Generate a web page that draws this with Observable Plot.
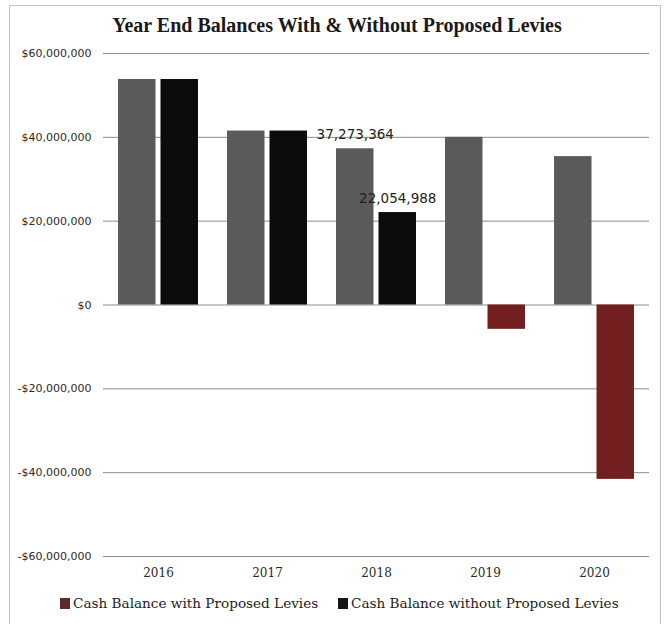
<!DOCTYPE html>
<html>
<head>
<meta charset="utf-8">
<script src="https://cdn.jsdelivr.net/npm/d3@7"></script>
<script src="https://cdn.jsdelivr.net/npm/@observablehq/plot@0.6"></script>
<style>
  body { margin: 0; background: #fff; }
  #wrap { position: relative; width: 670px; height: 624px; overflow: hidden; background: #fff; }
  #frame { position: absolute; left: 9px; top: 5px; width: 652px; height: 640px; border: 1px solid #c4c4c4; box-sizing: border-box; }
  #title { position: absolute; left: 0; top: 14px; width: 674px; text-align: center;
           font-family: "Liberation Serif", serif; font-weight: bold; font-size: 20px; color: #1a1a1a; white-space: nowrap; }
  #chart { position: absolute; left: 0; top: 0; }
  #chart g[aria-label^="y-axis"] text { font-family: "DejaVu Sans", sans-serif; font-size: 11px; fill: #2a2a2a; }
  #chart g[aria-label^="x-axis"] text { font-family: "DejaVu Serif", serif; font-size: 12px; fill: #2a2a2a; }
  .leg { position: absolute; top: 595px; display: flex; align-items: center; font-family: "DejaVu Serif", serif; font-size: 13.6px; color: #222; white-space: nowrap; }
  .sw { display: inline-block; width: 10px; height: 11px; margin-right: 3px; }
</style>
</head>
<body>
<div id="wrap">
  <div id="frame"></div>
  <div id="title"></div>
  <div id="chart"></div>
  <div id="leg1" class="leg" style="left:60px"><span class="sw" style="background:#5e2a2a"></span><span class="lt"></span></div>
  <div id="leg2" class="leg" style="left:338px"><span class="sw" style="background:#151515"></span><span class="lt"></span></div>
</div>
<script>
// ---- data ----
const titleText = "Year End Balances With & Without Proposed Levies";
const years = ["2016", "2017", "2018", "2019", "2020"];
const withLevies = [53800000, 41500000, 37273364, 40000000, 35400000];
const withoutLevies = [53800000, 41500000, 22054988, -5800000, -41600000];
const seriesNames = ["Cash Balance with Proposed Levies", "Cash Balance without Proposed Levies"];
const yTicks = [-60000000, -40000000, -20000000, 0, 20000000, 40000000, 60000000];
const labelSeries = ["with", "without"];
const labelYears = ["2018", "2018"];

// ---- colours ----
const grayFill = "#5a5a5a";
const blackFill = "#0c0c0c";
const redFill = "#731f1f";

const dataWith = years.map((year, i) => ({year, value: withLevies[i], series: "with"}));
const dataWithout = years.map((year, i) => ({year, value: withoutLevies[i], series: "without"}));
const labels = labelSeries.map((s, i) => {
  const src = s === "with" ? dataWith : dataWithout;
  return src.find(d => d.year === labelYears[i]);
});

const money = d => (d < 0 ? "-" : "") + "$" + d3.format(",")(Math.abs(d));

document.getElementById("title").textContent = titleText;
document.querySelector("#leg1 .lt").textContent = seriesNames[0];
document.querySelector("#leg2 .lt").textContent = seriesNames[1];

const labelStyle = {fontFamily: "DejaVu Sans", fontSize: 13.5, fill: "#222", lineAnchor: "middle"};

const chart = Plot.plot({
  width: 670,
  height: 590,
  marginTop: 53,
  marginBottom: 34,
  marginLeft: 103,
  marginRight: 21,
  style: {background: "transparent", overflow: "visible"},
  x: {domain: years, paddingInner: 0.263, paddingOuter: 0.1315, label: null, tickSize: 0, tickPadding: 12},
  y: {domain: [-60000000, 60000000], ticks: yTicks, tickFormat: money, label: null, tickSize: 0, tickPadding: 12},
  color: {type: "identity"},
  marks: [
    Plot.ruleY(yTicks, {stroke: "#8c8c8c", strokeWidth: 1}),
    Plot.barY(dataWith, {x: "year", y: "value", fill: d => grayFill, insetRight: 42.5}),
    Plot.barY(dataWithout, {x: "year", y: "value", fill: d => (d.value >= 0 ? blackFill : redFill), insetLeft: 42.5}),
    Plot.text(labels.filter(d => d.series === "with"), {
      x: "year", y: "value", text: d => d3.format(",")(d.value),
      dx: -21.25, dy: -14, ...labelStyle
    }),
    Plot.text(labels.filter(d => d.series === "without"), {
      x: "year", y: "value", text: d => d3.format(",")(d.value),
      dx: 21.25, dy: -14, ...labelStyle
    })
  ]
});
document.getElementById("chart").appendChild(chart);
</script>
</body>
</html>
